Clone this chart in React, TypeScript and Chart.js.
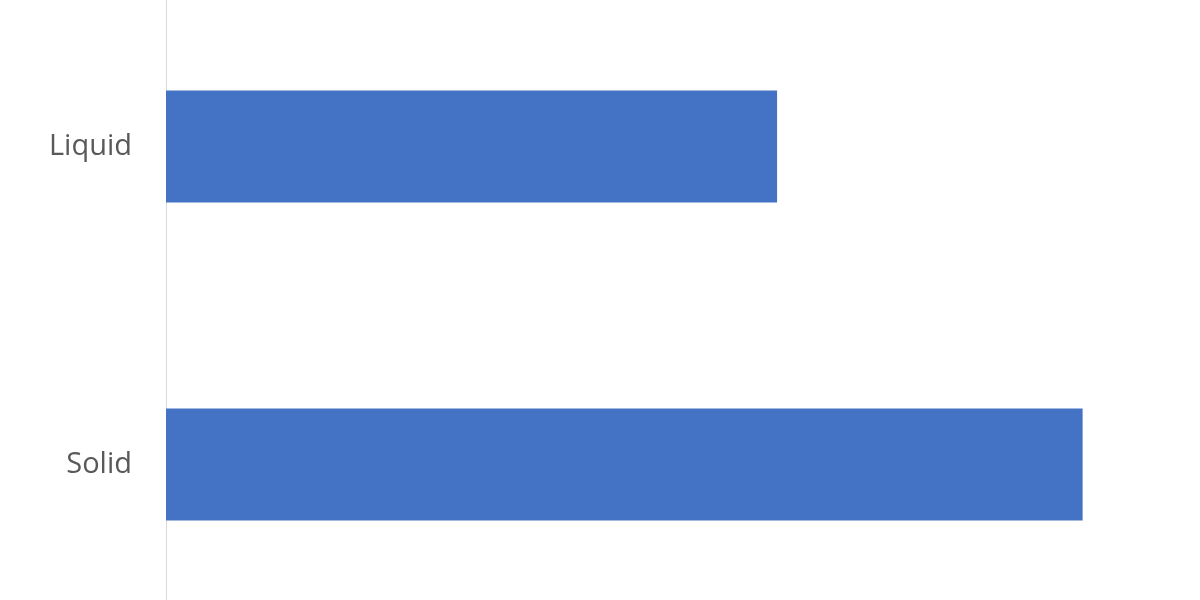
import React, { useEffect, useRef } from 'react';
import { Chart, registerables } from 'chart.js';

Chart.register(...registerables);

// categories and values
const categories = ['Liquid', 'Solid'];
const shareValues = [40, 60];

const App: React.FC = () => {
  const canvasRef = useRef<HTMLCanvasElement>(null);
  const chartRef = useRef<Chart | null>(null);

  useEffect(() => {
    if (!canvasRef.current) return;
    const existing = Chart.getChart(canvasRef.current);
    if (existing) existing.destroy();

    chartRef.current = new Chart(canvasRef.current, {
      type: 'bar',
      data: {
        labels: categories,
        datasets: [
          {
            data: shareValues,
            backgroundColor: '#4472c4',
            borderWidth: 0,
            categoryPercentage: 1,
            barPercentage: 0.352,
          },
        ],
      },
      options: {
        indexAxis: 'y',
        animation: false,
        responsive: false,
        maintainAspectRatio: false,
        layout: { padding: { top: 0, bottom: 0, left: 0, right: 41 } },
        plugins: {
          legend: { display: false },
          tooltip: { enabled: false },
        },
        scales: {
          x: {
            display: false,
            min: 0,
            max: 65,
          },
          y: {
            grid: { display: false, drawTicks: false },
            border: { display: true, color: '#d9d9d9', width: 1 },
            ticks: {
              color: '#595959',
              padding: 34,
              font: { family: "'Open Sans', sans-serif", size: 29 },
            },
            afterFit: (scale: any) => {
              scale.width = 166;
            },
          },
        },
      },
    });

    return () => {
      if (chartRef.current) {
        chartRef.current.destroy();
        chartRef.current = null;
      }
    };
  }, []);

  // the plot is cropped at top and bottom in the reference, so the canvas
  // is taller than the window and shifted up
  return (
    <div
      style={{
        position: 'fixed',
        left: 0,
        top: 0,
        width: 1200,
        height: 600,
        overflow: 'hidden',
        background: '#ffffff',
      }}
    >
      <canvas
        ref={canvasRef}
        width={1200}
        height={739}
        style={{ position: 'absolute', left: 0, top: -64, width: 1200, height: 739 }}
      />
    </div>
  );
};

export default App;
